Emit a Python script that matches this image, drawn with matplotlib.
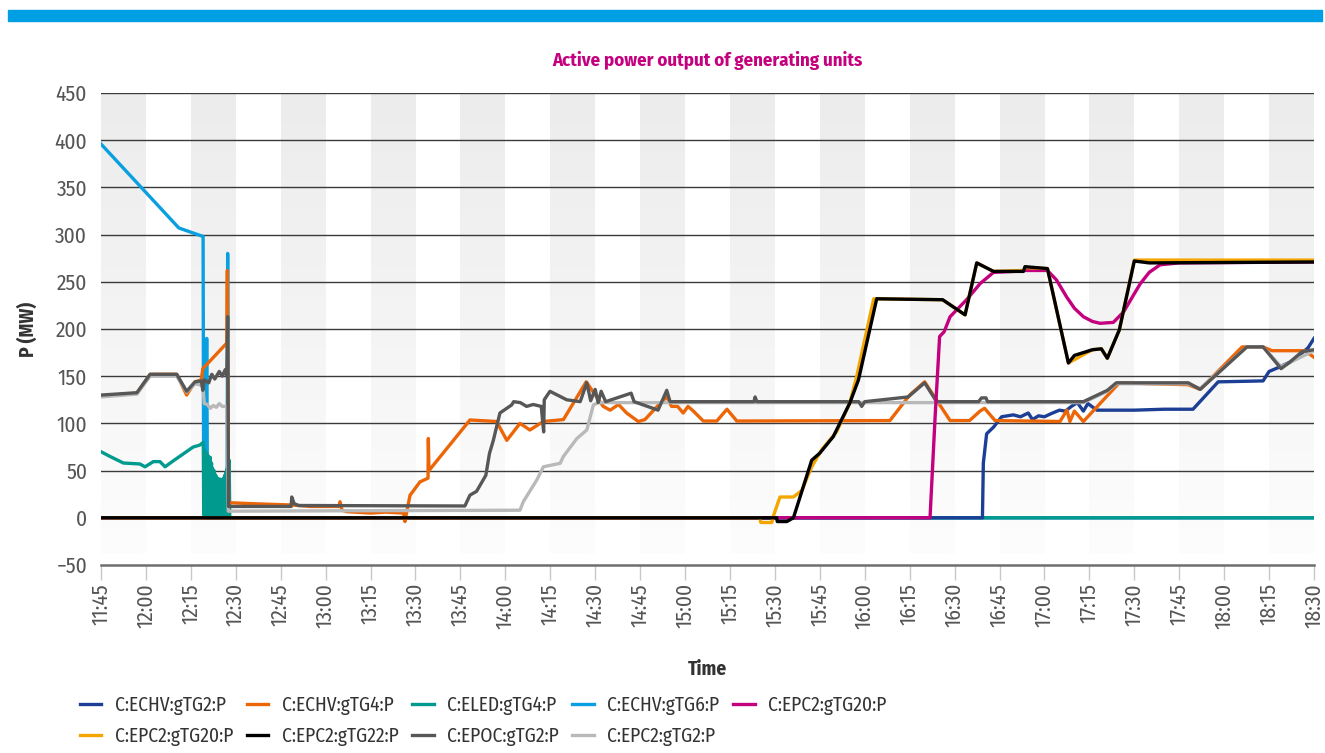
import matplotlib
matplotlib.use("Agg")
import matplotlib.pyplot as plt
import numpy as np
from matplotlib.colors import LinearSegmentedColormap
from matplotlib.patches import Rectangle

plt.rcParams['font.family'] = ['Fira Sans Condensed', 'Asap Condensed', 'DejaVu Sans']


def tm(s):
    # "HH:MM" (minutes may be fractional) -> minutes after midnight
    h, m = s.split(':')
    return int(h) * 60 + float(m)


# C:ECHV:gTG2:P
echv_tg2_t = ["11:45", "16:39.3", "16:39.6", "16:40.7", "16:43", "16:45.7", "16:49.6", "16:52",
              "16:54.6", "16:56", "16:58", "17:00", "17:02", "17:05", "17:07", "17:09", "17:11",
              "17:13", "17:14.5", "17:17.5", "17:30", "17:40", "17:49.6", "17:58", "18:13",
              "18:15", "18:18.7", "18:22", "18:25", "18:28", "18:30"]
echv_tg2_p = [0, 0, 58, 89, 96, 107, 109, 107, 111, 104, 108, 107, 110, 114, 113, 118, 122,
              113, 121, 114, 114, 115, 115, 144, 145, 155, 160, 165, 172, 180, 190]

# C:ECHV:gTG4:P
echv_tg4_t = ["11:45", "11:57", "12:01.4", "12:10.3", "12:13.6", "12:16.4", "12:18.5", "12:19",
              "12:27", "12:27.2", "12:27.6", "12:35", "12:49", "12:55", "13:04.6", "13:04.8",
              "13:05.5", "13:07", "13:15", "13:20", "13:26", "13:26.5", "13:27", "13:28.2",
              "13:28.7", "13:31.5", "13:34.2", "13:34.3", "13:34.5", "13:48.2", "13:57.1",
              "14:00.5", "14:04.9", "14:08.2", "14:12.7", "14:19.4", "14:27", "14:32.7", "14:35",
              "14:37.8", "14:40.5", "14:44.4", "14:46.6", "14:51.6", "14:53.9", "14:55.5",
              "14:57.5", "14:59.4", "15:01", "15:02.8", "15:06.1", "15:10.6", "15:14", "15:17.3",
              "16:08.4", "16:15", "16:20", "16:28.5", "16:35", "16:38.5", "16:40", "16:43.5",
              "17:05.2", "17:07.5", "17:08.5", "17:10", "17:13", "17:25", "17:35", "17:48",
              "17:52", "18:06", "18:13", "18:16", "18:27", "18:30"]
echv_tg4_p = [129, 132, 152, 152, 130, 144, 146, 158, 185, 262, 16, 15, 13.5, 12, 12, 17, 8, 6.5,
              5, 6, 5, -4, 5, 24, 26, 38, 42, 84, 50, 103.6, 102, 82, 100, 93, 102, 104, 144, 118,
              114, 120, 111, 102, 104, 121, 128, 118, 118, 111, 118, 113, 102.5, 102.5, 115, 102.5,
              103, 130, 144, 103, 103, 113, 116, 103, 102, 114, 102, 113, 102, 143, 142, 141, 136,
              181, 181, 177, 177, 170]

# C:ELED:gTG4:P
eled_tg4_t = ["11:45", "11:48", "11:52.5", "11:58", "11:59.7", "12:02.5", "12:04.7", "12:06.4",
              "12:09", "12:15.8", "12:18", "12:19.2", "12:19.3", "12:19.5", "12:19.7", "12:19.9",
              "12:20.1", "12:20.3", "12:20.5", "12:20.7", "12:20.9", "12:21.1", "12:21.3",
              "12:21.5", "12:21.7", "12:21.9", "12:22.1", "12:22.3", "12:22.5", "12:22.7",
              "12:22.9", "12:23.1", "12:23.3", "12:23.5", "12:23.7", "12:23.9", "12:24.1",
              "12:24.3", "12:24.5", "12:24.7", "12:24.9", "12:25.1", "12:25.3", "12:25.5",
              "12:25.7", "12:25.9", "12:26.1", "12:26.3", "12:26.5", "12:26.7", "12:26.9",
              "12:27.1", "12:27.3", "12:27.5", "12:27.7", "12:27.8", "12:28", "18:30"]
eled_tg4_p = [70, 65, 58, 57, 54, 59.5, 59.5, 54, 60, 75, 77, 80, 3, 72, 0, 70, 2, 68, 0, 66, 1,
              62, 0, 64, 3, 58, 0, 52, 2, 50, 0, 46, 1, 44, 0, 42, 2, 40, 0, 41, 1, 39, 0, 40, 2,
              42, 0, 45, 1, 48, 0, 52, 2, 57, 0, 61, 0, 0]

# C:ECHV:gTG6:P
echv_tg6_t = ["11:45", "12:11", "12:19.1", "12:19.3", "12:20", "12:20.3", "12:20.6", "12:27.1",
              "12:27.3", "12:27.5", "18:30"]
echv_tg6_p = [396, 307, 298, 10, 10, 190, 0, 0, 280, 0, 0]

# C:EPC2:gTG20:P (magenta)
epc2_tg20a_t = ["11:45", "16:21.8", "16:23.5", "16:25", "16:26.5", "16:28.5", "16:34", "16:38.5",
                "16:43", "16:50", "16:53", "17:01", "17:04", "17:07.4", "17:10", "17:13", "17:16",
                "17:18.6", "17:23", "17:26.4", "17:29", "17:32", "17:35", "17:38.6", "17:45",
                "18:30"]
epc2_tg20a_p = [0, 0, 107, 192, 197, 213, 231, 248, 260, 261, 262, 262, 252, 234, 222, 213, 208,
                206, 207, 218, 232, 248, 260, 268, 270, 271]

# C:EPC2:gTG20:P (yellow)
epc2_tg20b_t = ["11:45", "15:25", "15:25.3", "15:29", "15:29.3", "15:31.7", "15:36.2", "15:39",
                "15:42.3", "15:45.6", "15:50.6", "15:55", "15:57.3", "16:03", "16:26", "16:33.5",
                "16:37.4", "16:43", "16:53", "16:53.5", "17:01", "17:08", "17:16", "17:19",
                "17:21", "17:25", "17:30", "18:30"]
epc2_tg20b_p = [0, 0, -5, -5, 0, 22, 22, 29, 54, 72, 91, 121.5, 149.5, 232, 231, 215, 270, 261,
                262, 265, 264, 164, 178, 179, 169, 199, 273, 273]

# C:EPC2:gTG22:P
epc2_tg22_t = ["11:45", "15:30.6", "15:30.8", "15:34", "15:36.2", "15:42.3", "15:45", "15:49.5",
               "15:55", "15:57.9", "16:04", "16:26", "16:33.5", "16:37.4", "16:43", "16:53",
               "16:53.5", "17:01", "17:08", "17:10", "17:16", "17:19", "17:21", "17:25", "17:30",
               "17:35", "18:30"]
epc2_tg22_p = [0, 0, -4, -4, 0, 61, 68.5, 86, 121.5, 146, 232, 231, 215, 270, 261, 261, 266, 264,
               164, 172, 178, 179, 169, 199, 272, 270, 271]

# C:EPOC:gTG2:P
epoc_tg2_t = ["11:45", "11:57", "12:01.4", "12:10.3", "12:13.6", "12:16.4", "12:18.5", "12:19",
              "12:19.5", "12:21", "12:22", "12:23", "12:24.5", "12:25.5", "12:26.5", "12:27",
              "12:27.3", "12:27.6", "12:48.5", "12:48.7", "12:49.5", "12:51", "13:46.5", "13:48.2",
              "13:50.4", "13:53.5", "13:54.7", "13:56", "13:58.2", "14:02.1", "14:02.8", "14:05",
              "14:07.1", "14:09.3", "14:12", "14:12.8", "14:13", "14:14.9", "14:20.5", "14:25",
              "14:27.2", "14:28.5", "14:30", "14:31", "14:32", "14:33.5", "14:42", "14:43",
              "14:51", "14:53.9", "14:55", "15:23", "15:23.4", "15:24", "15:58", "15:59", "16:00",
              "16:14.5", "16:20", "16:24", "16:38", "16:39", "16:40.5", "16:41", "17:13", "17:21",
              "17:24", "17:48", "17:52", "18:07.6", "18:13", "18:19", "18:22", "18:26", "18:30"]
epoc_tg2_p = [130, 132.5, 152, 152, 134, 144, 145, 135, 146, 143, 152, 147, 155, 150, 157, 150,
              213, 12, 12, 22, 15, 13, 12.5, 24, 28, 45, 68, 82, 111, 119.5, 123, 122, 118, 120,
              118, 91, 125, 134, 125, 123, 143, 124, 136, 122, 134, 123, 132, 123, 114, 135, 123,
              123, 128, 123, 123, 118, 123, 128, 143, 123, 123, 127, 127, 123, 123, 135, 143, 143,
              136, 181, 181, 158, 165, 176, 178]

# C:EPC2:gTG2:P
epc2_tg2_t = ["11:45", "11:57", "12:01.4", "12:10.3", "12:13.6", "12:16.4", "12:19", "12:19.5",
              "12:20.5", "12:21.5", "12:22.5", "12:23.5", "12:24.5", "12:25.5", "12:27", "12:27.5",
              "14:04.9", "14:06", "14:10.5", "14:12.7", "14:18.3", "14:19.4", "14:23.9", "14:27.2",
              "14:29.4", "14:31", "17:13", "17:21", "17:24", "17:48", "17:52", "18:07.6", "18:13",
              "18:19", "18:30"]
epc2_tg2_p = [128, 131, 150, 150, 133, 142, 140, 121, 120, 116, 119, 117, 121, 118, 118, 7, 8, 17,
              40, 54, 57.7, 65, 84, 93, 119.5, 122, 122, 134, 142, 142, 137, 181, 181, 160, 177]

series = [
    ("C:ECHV:gTG2:P", echv_tg2_t, echv_tg2_p, '#1c3f95', 2.3),
    ("C:ECHV:gTG4:P", echv_tg4_t, echv_tg4_p, '#ec6608', 2.4),
    ("C:ELED:gTG4:P", eled_tg4_t, eled_tg4_p, '#009a8e', 2.2),
    ("C:ECHV:gTG6:P", echv_tg6_t, echv_tg6_p, '#0a9fe0', 2.1),
    ("C:EPC2:gTG20:P", epc2_tg20a_t, epc2_tg20a_p, '#c4007e', 2.6),
    ("C:EPC2:gTG20:P", epc2_tg20b_t, epc2_tg20b_p, '#f5a500', 2.7),
    ("C:EPC2:gTG22:P", epc2_tg22_t, epc2_tg22_p, '#000000', 2.8),
    ("C:EPOC:gTG2:P", epoc_tg2_t, epoc_tg2_p, '#575757', 2.5),
    ("C:EPC2:gTG2:P", epc2_tg2_t, epc2_tg2_p, '#b9b9b9', 2.45),
]

t_start, t_end = tm("11:45"), tm("18:30")
y_lo, y_hi = -50, 450

fig = plt.figure(figsize=(13.25, 7.53), dpi=100)
ax = fig.add_axes([0.0762, 0.2497, 0.9155, 0.6268])

# blue header bar
fig.patches.append(Rectangle((8 / 1325, 1 - 21 / 753), 1314 / 1325, 11 / 753,
                             transform=fig.transFigure, color='#009fe3', zorder=0))

# alternating 15 min bands, gray ones fading downwards
band_cmap = LinearSegmentedColormap.from_list('band', ['#fdfdfd', '#f4f4f4', '#ececec'])
grad = np.linspace(0, 1, 200).reshape(-1, 1)
for k, t0 in enumerate(np.arange(t_start, t_end, 15)):
    if k % 2 == 0:
        ax.imshow(grad, extent=(t0, t0 + 15, y_lo + 12, y_hi), origin='lower', cmap=band_cmap,
                  aspect='auto', zorder=0, interpolation='bilinear')

for yv in range(0, 451, 50):
    ax.axhline(yv, color='#3a3a3a', lw=1.0, zorder=1)

handles = {}
for i, (name, ts, ps, col, z) in enumerate(series):
    ln, = ax.plot([tm(s) for s in ts], ps, color=col, lw=2.4, zorder=z,
                  solid_joinstyle='round', label=name)
    handles[i] = ln

ax.set_xlim(t_start, t_end)
ax.set_ylim(y_lo, y_hi)
xt = np.arange(t_start, t_end + 1, 15)
ax.set_xticks(xt)
ax.set_xticklabels(["%d:%02d" % (int(v) // 60, int(v) % 60) for v in xt], rotation=90)
ax.set_yticks(range(-50, 451, 50))
ax.tick_params(axis='x', length=11, width=1, color='#c8c8c8', labelsize=15.5,
               labelcolor='#555555', pad=2)
ax.tick_params(axis='y', length=0, labelsize=15.5, labelcolor='#555555', pad=10)
for s in ['top', 'right', 'left']:
    ax.spines[s].set_visible(False)
ax.spines['bottom'].set_color('#6e6e6e')
ax.spines['bottom'].set_linewidth(1.8)

ax.set_xlabel("Time", fontsize=14, fontweight='bold', color='#333333', labelpad=22)
ax.set_ylabel("P (MW)", fontsize=14, fontweight='bold', color='#333333', labelpad=12)

fig.text(0.534, 0.92, "Active power output of generating units", ha='center', va='center',
         fontsize=13.5, fontweight='bold', color='#c4007e')

order = [0, 5, 1, 6, 2, 7, 3, 8, 4]
fig.legend([handles[i] for i in order], [series[i][0] for i in order], ncol=5,
           loc='upper left', bbox_to_anchor=(0.047, 0.1), frameon=False, fontsize=14,
           handlelength=1.1, handletextpad=0.7, columnspacing=0.7, labelspacing=0.6,
           labelcolor='#333333')

fig.savefig("out.png", dpi=100)
